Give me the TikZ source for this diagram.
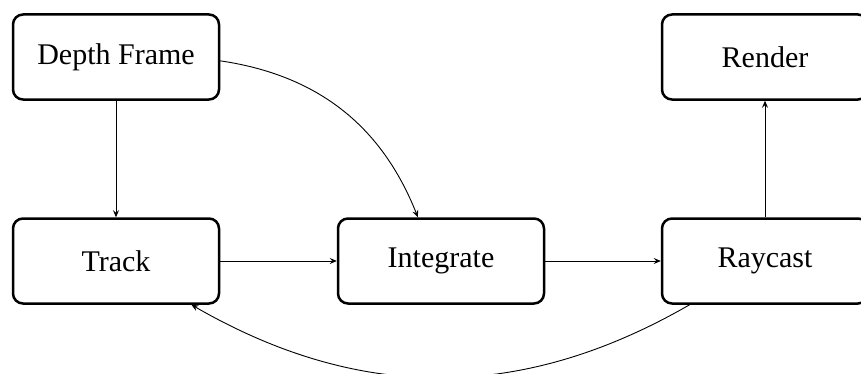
\documentclass[tikz,border=0pt]{standalone}
\usepackage{fontspec}
\setmainfont{Liberation Serif}
\usetikzlibrary{arrows.meta}
\begin{document}
\begin{tikzpicture}[x=1pt,y=1pt,
  stagebox/.style={draw, line width=2.5pt, rounded corners=10pt, minimum width=206pt, minimum height=85pt, inner sep=0pt, font=\fontsize{30}{36}\selectfont},
  flow/.style={line width=0.9pt, -{Stealth[length=7pt,width=6pt,inset=2.5pt]}}]
\clip (0,0) rectangle (861,373);
\useasboundingbox (0,0) rectangle (861,373);
\node[stagebox] (depth) at (116,316) {Depth Frame};
\node[stagebox] (render) at (765,316) {Render};
\node[stagebox] (track) at (116,112) {Track};
\node[stagebox] (integrate) at (441,112) {Integrate};
\node[stagebox] (raycast) at (765,112) {Raycast};
\draw[flow] (depth) -- (track);
\draw[flow] (track) -- (integrate);
\draw[flow] (integrate) -- (raycast);
\draw[flow] (raycast) -- (render);
\draw[flow] (depth) to[bend left=30] (integrate);
\draw[flow] (raycast) to[bend left=30] (track);
\end{tikzpicture}
\end{document}
